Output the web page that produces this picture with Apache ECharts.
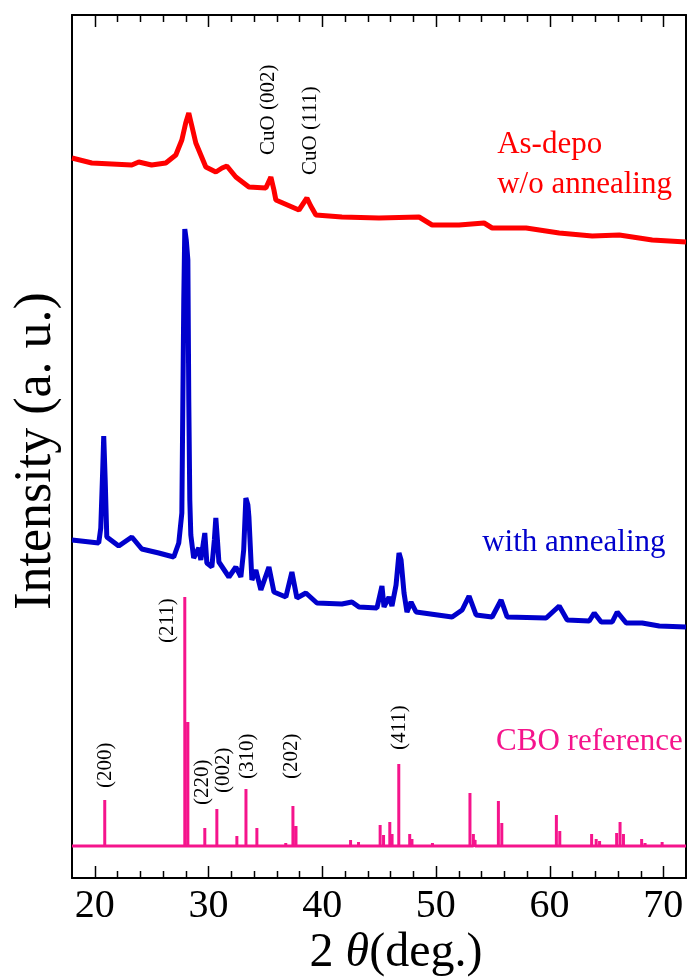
<!DOCTYPE html>
<html>
<head>
<meta charset="utf-8">
<script src="https://cdn.jsdelivr.net/npm/echarts@6/dist/echarts.min.js"></script>
<style>
  html, body { margin: 0; padding: 0; background: #fff; }
  #chart { width: 689px; height: 979px; }
</style>
</head>
<body>
<div id="chart"></div>
<script>
// 2theta (deg) / intensity (a.u., offset stacked as in the figure)
const asDepo = [
  [18, 720], [19.74, 715], [21.5, 714], [23.26, 713], [23.87, 716], [25, 713], [26.25, 715],
  [27.13, 723], [27.66, 738], [28.0, 755], [28.27, 765], [28.54, 752], [28.89, 735],
  [29.77, 711], [30.65, 706], [31.2, 710], [31.62, 712], [32.41, 701], [33.56, 691],
  [35.05, 690], [35.49, 701], [35.76, 688], [35.93, 678], [37.96, 668], [38.66, 680],
  [39.0, 672], [39.45, 663], [41.74, 661], [45.0, 660], [48.52, 661], [49.67, 653],
  [52.04, 653], [54.24, 655], [54.95, 650], [57.94, 650], [60.85, 645], [63.75, 642],
  [66.13, 643], [69.03, 638], [72, 636]
]

const annealed = [
  [18, 338], [20.35, 335], [20.53, 350], [20.7, 408], [20.79, 442], [20.92, 398], [21.06, 341],
  [22.11, 332], [23.26, 341], [24.14, 329], [25.63, 325], [26.95, 321], [27.39, 335],
  [27.66, 365], [27.83, 578], [27.92, 649], [28.05, 638], [28.19, 618], [28.27, 478],
  [28.36, 378], [28.45, 343], [28.7, 320], [29.15, 330], [29.33, 318], [29.68, 345],
  [29.86, 315], [30.3, 311], [30.52, 338], [30.65, 360], [30.79, 338], [30.92, 316],
  [31.8, 301], [32.41, 311], [32.85, 301], [33.1, 328], [33.29, 380], [33.47, 373],
  [33.56, 361], [33.82, 298], [34.17, 308], [34.61, 288], [35.32, 311], [35.76, 286],
  [36.81, 281], [37.34, 306], [37.78, 280], [38.57, 285], [39.54, 275], [41.74, 274],
  [42.62, 276], [43.24, 271], [44.82, 270], [45.26, 292], [45.44, 271], [45.88, 281],
  [46.14, 272], [46.5, 293], [46.76, 325], [46.94, 318], [47.2, 285], [47.46, 266],
  [47.82, 276], [48.26, 266], [51.43, 261], [52.31, 268], [52.92, 282], [53.54, 263],
  [54.95, 261], [55.74, 278], [56.27, 261], [59.7, 260], [60.85, 272], [61.55, 258],
  [63.49, 257], [63.93, 265], [64.54, 256], [65.51, 256], [65.95, 266], [66.74, 255],
  [68.15, 255], [69.65, 252], [72, 251]
]

// CBO reference pattern: peak positions and stick heights above the baseline
const refBase = 32
const refPos = [20.88, 27.92, 28.19, 29.68, 30.74, 32.5, 33.3, 34.26, 36.8, 37.43, 37.7,
  42.5, 43.2, 45.1, 45.4, 45.95, 46.15, 46.74, 47.7, 47.9, 49.7, 53.0, 53.3, 53.45,
  55.5, 55.8, 60.6, 60.9, 63.7, 64.1, 64.4, 65.9, 66.2, 66.5, 68.1, 68.4, 69.9]
const refHeight = [46, 249, 124, 18, 37, 10, 57, 18, 3, 40, 20,
  6, 4, 21, 11, 24, 12, 82, 12, 7, 3, 53, 12, 6,
  45, 23, 31, 15, 12, 7, 5, 13, 24, 12, 7, 3, 4]

const xTicksMajor = [20, 30, 40, 50, 60, 70]
const xTicksMinor = [22, 24, 26, 28, 32, 34, 36, 38, 42, 44, 46, 48, 52, 54, 56, 58, 62, 64, 66, 68]

// peak indices / sample names (text, 2theta, intensity at text anchor)
const hklLabels = [
  ['(200)', 20.97, 90], ['(211)', 26.43, 235], ['(220)', 29.5, 73], ['(002)', 31.36, 85],
  ['(310)', 33.47, 99], ['(202)', 37.34, 99], ['(411)', 46.76, 128],
  ['CuO (002)', 35.32, 723], ['CuO (111)', 39.0, 703]
]
const sampleLabels = [
  ['As-depo', 55.39, 733, '#ff0000'], ['w/o annealing', 55.39, 693, '#ff0000'],
  ['with annealing', 54.07, 335, '#0000cc'], ['CBO reference', 55.3, 136, '#f5148c']
]

const serif = '"Liberation Serif", "DejaVu Serif", serif'
const pink = '#f5148c'

const X_MIN = 18, X_MAX = 72, Y_MAX = 863
const G = { left: 72, right: 3, top: 15, bottom: 101 }
const W = 689, H = 979

const refLine = [[X_MIN, refBase]]
refPos.forEach((p, i) => {
  refLine.push([p, refBase], [p, refBase + refHeight[i]], [p, refBase])
})
refLine.push([X_MAX, refBase])

// same mapping as the grid, for placing annotations and tick marks
const toPx = (x, y) => [
  G.left + (x - X_MIN) / (X_MAX - X_MIN) * (W - G.left - G.right),
  (H - G.bottom) - y / Y_MAX * (H - G.top - G.bottom)
]

const graphics = []
hklLabels.forEach(([t, x, y]) => {
  const [px, py] = toPx(x, y)
  graphics.push({
    type: 'text', x: px, y: py, rotation: Math.PI / 2,
    style: { text: t, fill: '#000', font: '21px ' + serif, align: 'left', verticalAlign: 'middle' }
  })
})
sampleLabels.forEach(([t, x, y, c]) => {
  const [px, py] = toPx(x, y)
  graphics.push({
    type: 'text', x: px, y: py,
    style: { text: t, fill: c, font: '31px ' + serif, align: 'left', verticalAlign: 'middle' }
  })
})

// inward tick marks on the bottom and top frame
const yBottom = H - G.bottom, yTop = G.top
const addTicks = (vals, len) => vals.forEach(v => {
  const px = Math.round(toPx(v, 0)[0]) + 0.5
  graphics.push({ type: 'line', silent: true,
    shape: { x1: px, y1: yBottom, x2: px, y2: yBottom - len }, style: { stroke: '#000', lineWidth: 1.5 } })
  graphics.push({ type: 'line', silent: true,
    shape: { x1: px, y1: yTop, x2: px, y2: yTop + len }, style: { stroke: '#000', lineWidth: 1.5 } })
})
addTicks(xTicksMajor, 12)
addTicks(xTicksMinor, 7)

// axis titles
graphics.push({
  type: 'text', x: 36, y: 451, rotation: Math.PI / 2,
  style: { text: 'Intensity (a. u.)', fill: '#000', font: '52px ' + serif, align: 'center', verticalAlign: 'middle' }
})
graphics.push({
  type: 'text', x: 396, y: 953,
  style: {
    text: '{a|2 }{b|θ}{a|(deg.)}',
    align: 'center', verticalAlign: 'middle',
    rich: {
      a: { fontFamily: serif, fontSize: 48, fill: '#000' },
      b: { fontFamily: serif, fontSize: 48, fontStyle: 'italic', fill: '#000' }
    }
  }
})

const chart = echarts.init(document.getElementById('chart'))

const xAxisAt = (pos, withLabels) => ({
  type: 'value',
  min: X_MIN,
  max: X_MAX,
  position: pos,
  splitLine: { show: false },
  axisLine: { show: true, onZero: false, lineStyle: { color: '#000', width: 2 } },
  axisTick: { show: false },
  axisLabel: withLabels
    ? { show: true, customValues: xTicksMajor, margin: 8, color: '#000', fontFamily: serif, fontSize: 40 }
    : { show: false }
})

const yAxisAt = (pos) => ({
  type: 'value', min: 0, max: Y_MAX, position: pos,
  splitLine: { show: false },
  axisLine: { show: true, onZero: false, lineStyle: { color: '#000', width: 2 } },
  axisTick: { show: false },
  axisLabel: { show: false }
})

chart.setOption({
  animation: false,
  grid: { ...G, outerBoundsMode: 'none' },
  xAxis: [xAxisAt('bottom', true), xAxisAt('top', false)],
  yAxis: [yAxisAt('left'), yAxisAt('right')],
  series: [
    { name: 'CBO reference', type: 'line', data: refLine, showSymbol: false,
      lineStyle: { color: pink, width: 3 } },
    { name: 'with annealing', type: 'line', data: annealed, showSymbol: false,
      lineStyle: { color: '#0000cc', width: 5 } },
    { name: 'As-depo', type: 'line', data: asDepo, showSymbol: false,
      lineStyle: { color: '#ff0000', width: 5 } }
  ],
  graphic: graphics
})
</script>
</body>
</html>
